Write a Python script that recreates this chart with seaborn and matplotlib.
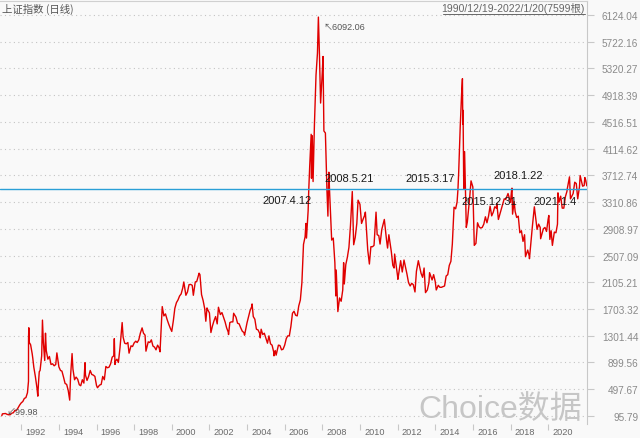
import pandas as pd
import matplotlib.pyplot as plt
import matplotlib.dates as mdates
from matplotlib.lines import Line2D
from matplotlib.transforms import ScaledTranslation
import seaborn as sns

# Shanghai Composite daily close at turning points
dates = [
    "1990-12-19", "1990-12-31", "1991-01-31", "1991-02-28", "1991-03-31", "1991-04-30", "1991-05-31",
    "1991-06-30", "1991-07-31", "1991-08-31", "1991-09-30", "1991-10-31", "1991-11-30", "1991-12-31",
    "1992-01-31", "1992-02-29", "1992-03-31", "1992-04-30", "1992-05-20", "1992-05-21", "1992-05-26",
    "1992-06-05", "1992-06-30", "1992-07-31", "1992-08-12", "1992-08-31", "1992-09-30", "1992-10-31",
    "1992-11-17", "1992-11-30", "1992-12-15", "1992-12-31", "1993-01-31", "1993-02-15", "1993-03-05",
    "1993-03-31", "1993-04-15", "1993-04-30", "1993-05-31", "1993-06-30", "1993-07-31", "1993-08-31",
    "1993-09-30", "1993-10-31", "1993-11-22", "1993-12-31", "1994-01-31", "1994-02-28", "1994-03-31",
    "1994-04-30", "1994-05-31", "1994-06-30", "1994-07-29", "1994-08-15", "1994-09-13", "1994-09-30",
    "1994-10-31", "1994-11-30", "1994-12-31", "1995-01-31", "1995-02-28", "1995-03-31", "1995-04-30",
    "1995-05-22", "1995-05-31", "1995-06-30", "1995-07-31", "1995-08-31", "1995-09-30", "1995-10-31",
    "1995-11-30", "1995-12-31", "1996-01-19", "1996-02-29", "1996-03-31", "1996-04-30", "1996-05-31",
    "1996-06-30", "1996-07-31", "1996-08-31", "1996-09-30", "1996-10-31", "1996-11-30", "1996-12-11",
    "1996-12-24", "1996-12-31", "1997-01-31", "1997-02-28", "1997-03-31", "1997-04-30", "1997-05-12",
    "1997-05-31", "1997-06-30", "1997-07-31", "1997-08-31", "1997-09-23", "1997-10-31", "1997-11-30",
    "1997-12-31", "1998-01-31", "1998-02-28", "1998-03-31", "1998-04-30", "1998-05-31", "1998-06-03",
    "1998-06-30", "1998-07-31", "1998-08-17", "1998-09-30", "1998-10-31", "1998-11-30", "1998-12-31",
    "1999-01-31", "1999-02-28", "1999-03-31", "1999-04-30", "1999-05-17", "1999-05-31", "1999-06-29",
    "1999-07-31", "1999-08-31", "1999-09-30", "1999-10-31", "1999-11-30", "1999-12-31", "2000-01-31",
    "2000-02-29", "2000-03-31", "2000-04-30", "2000-05-31", "2000-06-30", "2000-07-31", "2000-08-21",
    "2000-09-30", "2000-10-31", "2000-11-30", "2000-12-31", "2001-01-31", "2001-02-22", "2001-03-31",
    "2001-04-30", "2001-05-31", "2001-06-13", "2001-06-30", "2001-07-31", "2001-08-31", "2001-09-30",
    "2001-10-22", "2001-11-14", "2001-11-30", "2001-12-31", "2002-01-29", "2002-02-28", "2002-03-31",
    "2002-04-30", "2002-05-31", "2002-06-24", "2002-07-31", "2002-08-31", "2002-09-30", "2002-10-31",
    "2002-11-30", "2002-12-31", "2003-01-06", "2003-01-31", "2003-02-28", "2003-03-31", "2003-04-15",
    "2003-05-31", "2003-06-30", "2003-07-31", "2003-08-31", "2003-09-30", "2003-10-31", "2003-11-13",
    "2003-12-31", "2004-01-31", "2004-02-28", "2004-03-31", "2004-04-07", "2004-04-30", "2004-05-31",
    "2004-06-30", "2004-07-31", "2004-08-31", "2004-09-13", "2004-09-30", "2004-10-31", "2004-11-30",
    "2004-12-31", "2005-01-31", "2005-02-28", "2005-03-31", "2005-04-30", "2005-05-31", "2005-06-06",
    "2005-06-30", "2005-07-18", "2005-08-31", "2005-09-30", "2005-10-31", "2005-11-30", "2005-12-31",
    "2006-01-31", "2006-02-28", "2006-03-31", "2006-04-30", "2006-05-31", "2006-06-30", "2006-07-31",
    "2006-08-31", "2006-09-30", "2006-10-31", "2006-11-30", "2006-12-31", "2007-01-31", "2007-02-16",
    "2007-02-27", "2007-03-31", "2007-04-12", "2007-04-30", "2007-05-29", "2007-06-04", "2007-06-20",
    "2007-07-05", "2007-07-31", "2007-08-31", "2007-09-28", "2007-10-16", "2007-11-05", "2007-11-28",
    "2007-12-31", "2008-01-14", "2008-01-31", "2008-02-29", "2008-03-31", "2008-04-18", "2008-05-06",
    "2008-05-21", "2008-06-30", "2008-07-31", "2008-08-31", "2008-09-18", "2008-09-26", "2008-10-28",
    "2008-11-30", "2008-12-31", "2009-01-31", "2009-02-17", "2009-03-02", "2009-03-31", "2009-04-30",
    "2009-05-31", "2009-06-30", "2009-07-31", "2009-08-04", "2009-08-31", "2009-09-30", "2009-10-31",
    "2009-11-24", "2009-12-31", "2010-01-31", "2010-02-28", "2010-03-31", "2010-04-15", "2010-05-31",
    "2010-07-02", "2010-07-31", "2010-08-31", "2010-09-30", "2010-11-08", "2010-11-30", "2010-12-31",
    "2011-01-25", "2011-02-28", "2011-04-18", "2011-05-31", "2011-06-20", "2011-07-15", "2011-08-31",
    "2011-09-30", "2011-10-24", "2011-11-04", "2011-12-31", "2012-01-06", "2012-02-29", "2012-03-31",
    "2012-05-04", "2012-06-30", "2012-07-31", "2012-08-31", "2012-09-30", "2012-10-31", "2012-12-03",
    "2012-12-31", "2013-02-06", "2013-03-31", "2013-04-30", "2013-05-29", "2013-06-25", "2013-07-31",
    "2013-08-31", "2013-09-12", "2013-10-31", "2013-11-30", "2013-12-31", "2014-01-20", "2014-02-28",
    "2014-03-31", "2014-04-30", "2014-05-31", "2014-06-30", "2014-07-31", "2014-08-31", "2014-09-30",
    "2014-10-31", "2014-11-28", "2014-12-31", "2015-01-31", "2015-02-28", "2015-03-17", "2015-03-31",
    "2015-04-30", "2015-05-27", "2015-06-12", "2015-06-19", "2015-06-24", "2015-07-08", "2015-07-24",
    "2015-08-26", "2015-09-15", "2015-10-31", "2015-11-26", "2015-12-31", "2016-01-28", "2016-02-29",
    "2016-03-31", "2016-04-30", "2016-05-31", "2016-06-30", "2016-07-31", "2016-08-31", "2016-09-30",
    "2016-10-31", "2016-11-30", "2016-12-31", "2017-01-31", "2017-02-28", "2017-03-31", "2017-04-10",
    "2017-05-10", "2017-06-30", "2017-07-31", "2017-08-31", "2017-09-30", "2017-11-13", "2017-12-31",
    "2018-01-22", "2018-01-29", "2018-02-09", "2018-03-12", "2018-03-31", "2018-04-30", "2018-05-31",
    "2018-06-30", "2018-07-31", "2018-08-31", "2018-09-30", "2018-10-18", "2018-11-30", "2018-12-31",
    "2019-01-03", "2019-02-28", "2019-04-08", "2019-05-31", "2019-06-30", "2019-07-31", "2019-08-08",
    "2019-09-30", "2019-10-31", "2019-11-30", "2019-12-31", "2020-01-14", "2020-02-03", "2020-02-28",
    "2020-03-23", "2020-04-30", "2020-05-31", "2020-06-30", "2020-07-09", "2020-07-31", "2020-08-31",
    "2020-09-30", "2020-10-31", "2020-11-30", "2020-12-31", "2021-01-04", "2021-02-18", "2021-03-09",
    "2021-04-30", "2021-05-31", "2021-06-30", "2021-07-28", "2021-08-31", "2021-09-13", "2021-10-31",
    "2021-11-30", "2021-12-13", "2021-12-31", "2022-01-20",
]
closes = [
    99.98, 127.6, 130.0, 133.0, 120.2, 113.9, 114.8,
    137.6, 143.6, 180.9, 180.0, 218.6, 259.6, 292.8,
    313.2, 358.8, 372.1, 445.0, 617.0, 1266.5, 1421.6,
    1200, 1167.5, 1030, 960, 830, 690, 520,
    393.5, 590, 760, 780.4, 1000, 1536.8, 1200,
    930, 1340, 1080, 950, 990, 870, 880,
    850, 870, 1044, 833.8, 780, 770, 680,
    585, 570, 480, 333.9, 700, 1033.5, 800,
    640, 680, 647.9, 565, 550, 640, 590,
    897, 710, 630, 690, 780, 720, 710,
    690, 555.3, 520, 560, 570, 690, 640,
    840, 820, 830, 880, 980, 1000, 1258,
    870, 917, 950, 900, 1120, 1380, 1500,
    1280, 1190, 1180, 1200, 1040, 1150, 1140,
    1194, 1220, 1200, 1240, 1340, 1410, 1420,
    1340, 1310, 1070, 1210, 1200, 1240, 1146.7,
    1130, 1090, 1160, 1120, 1060, 1280, 1740,
    1600, 1630, 1550, 1480, 1420, 1366.6, 1530,
    1715, 1800, 1840, 1900, 1930, 2020, 2110,
    1910, 1960, 2070, 2073.5, 2060, 1910, 2110,
    2120, 2210, 2242, 2220, 1920, 1830, 1710,
    1520, 1720, 1690, 1645, 1350, 1450, 1530,
    1590, 1480, 1730, 1620, 1650, 1580, 1510,
    1420, 1357.7, 1320, 1500, 1510, 1510, 1640,
    1580, 1490, 1480, 1420, 1370, 1350, 1310,
    1497, 1590, 1680, 1740, 1780, 1590, 1550,
    1400, 1390, 1340, 1270, 1400, 1320, 1340,
    1266.5, 1190, 1300, 1180, 1160, 1060, 1000,
    1080, 1010, 1160, 1155, 1090, 1100, 1161,
    1260, 1300, 1300, 1440, 1640, 1670, 1610,
    1600, 1750, 1840, 2100, 2675, 2790, 2990,
    2770, 3180, 3490, 3840, 4330, 3670, 4310,
    3620, 4470, 5220, 5550, 6092.06, 5550, 4800,
    5262, 5500, 4380, 4350, 3470, 3100, 3760,
    3460, 2740, 2770, 2400, 1900, 2290, 1665,
    1870, 1820, 1990, 2400, 2080, 2370, 2480,
    2630, 2960, 3410, 3470, 2670, 2780, 2990,
    3340, 3277, 2990, 3050, 3110, 3160, 2590,
    2380, 2640, 2640, 2660, 3160, 2820, 2808,
    2680, 2900, 3050, 2740, 2620, 2820, 2570,
    2360, 2320, 2530, 2199, 2150, 2430, 2260,
    2440, 2230, 2100, 2050, 2090, 2070, 1960,
    2270, 2430, 2240, 2180, 2320, 1950, 1990,
    2100, 2250, 2140, 2220, 2116, 1990, 2060,
    2030, 2030, 2040, 2050, 2200, 2220, 2360,
    2420, 2680, 3234, 3210, 3310, 3500, 3750,
    4440, 4940, 5166, 4480, 4690, 3510, 4070,
    2930, 3010, 3380, 3630, 3539, 2660, 2690,
    3000, 2940, 2920, 2930, 2980, 3090, 3000,
    3100, 3250, 3104, 3160, 3240, 3220, 3290,
    3050, 3190, 3270, 3360, 3350, 3440, 3307,
    3500, 3520, 3130, 3320, 3170, 3080, 3100,
    2850, 2880, 2720, 2820, 2490, 2590, 2494,
    2460, 2940, 3240, 2900, 2980, 2930, 2760,
    2910, 2930, 2870, 3050, 3110, 2750, 2880,
    2660, 2860, 2850, 2980, 3450, 3310, 3400,
    3220, 3220, 3390, 3473, 3502, 3690, 3360,
    3440, 3610, 3590, 3360, 3540, 3710, 3550,
    3560, 3680, 3640, 3555,
]

y_ticks = [95.79, 497.67, 899.56, 1301.44, 1703.32, 2105.21, 2507.09, 2908.97,
           3310.86, 3712.74, 4114.62, 4516.51, 4918.39, 5320.27, 5722.16, 6124.04]
x_tick_years = list(range(1992, 2021, 2))
level = 3502
marks = ["2007-04-12", "2008-05-21", "2015-03-17", "2015-12-31", "2018-01-22", "2021-01-04"]
mark_labels = ["2007.4.12", "2008.5.21", "2015.3.17", "2015.12.31", "2018.1.22", "2021.1.4"]

df = pd.DataFrame({"date": pd.to_datetime(dates), "close": closes})

sns.set_theme(style="white")
plt.rcParams['font.family'] = ['Liberation Sans', 'Noto Sans CJK SC', 'DejaVu Sans']

fig = plt.figure(figsize=(6.4, 4.39), dpi=100, facecolor='#f9f9f9')
ax = fig.add_axes([0, 1 - 425 / 439, 587 / 640, 423 / 439])
ax.set_facecolor('#f9f9f9')

sns.lineplot(data=df, x="date", y="close", ax=ax, color='#e00000', linewidth=1.0,
             estimator=None, sort=False)
ax.axhline(level, color='#2a9fd6', linewidth=1.0)

ax.set_xlim(pd.Timestamp("1990-11-14"), pd.Timestamp("2022-01-24"))
ax.set_ylim(-25, 6334)
ax.set_xlabel("")
ax.set_ylabel("")

# right-hand price axis
ax.yaxis.tick_right()
ax.set_yticks(y_ticks)
ax.set_yticklabels([f"{v:.2f}" for v in y_ticks])
ax.tick_params(axis='y', which='both', right=True, left=False, length=5, width=0.8,
               color='#c8c8c8', labelsize=7.2, labelcolor='#8a8a8a', pad=32)
for lab in ax.get_yticklabels():
    lab.set_horizontalalignment('right')
ax.grid(axis='y', linestyle=(0, (1, 3)), color='#c4c4c4', linewidth=0.8)

ax.set_xticks([pd.Timestamp(f"{y}-01-01") for y in x_tick_years])
ax.xaxis.set_major_formatter(mdates.DateFormatter('%Y'))
ax.tick_params(axis='x', bottom=True, length=4, width=0.8, color='#c8c8c8',
               labelsize=6.6, labelcolor='#6a6a6a', pad=-2)
shift = ScaledTranslation(3 / 72, 0, fig.dpi_scale_trans)
for lab in ax.get_xticklabels():
    lab.set_horizontalalignment('left')
    lab.set_transform(lab.get_transform() + shift)

for side in ['left', 'bottom']:
    ax.spines[side].set_visible(False)
ax.spines['top'].set_color('#d0d0d0')
ax.spines['right'].set_color('#c8c8c8')
ax.spines['top'].set_linewidth(0.8)
ax.spines['right'].set_linewidth(0.8)

# date annotations around the 3500 line
offsets = [(3, -11, 'right'), (-5, 11, 'left'), (-3, 11, 'right'),
           (-11, -12, 'left'), (7, 14, 'center'), (-12, -12, 'center')]
for d, txt, (dx, dy, ha) in zip(marks, mark_labels, offsets):
    ax.annotate(txt, xy=(pd.Timestamp(d), level), xytext=(dx, dy), textcoords='offset pixels',
                ha=ha, va='center', fontsize=8, color='#1a1a1a')

top = df.loc[df["close"].idxmax()]
ax.annotate(f"↖{top['close']:.2f}", xy=(top["date"], top["close"]), xytext=(5, -9),
            textcoords='offset pixels', ha='left', va='center', fontsize=6.5, color='#555555')
first = df.iloc[0]
ax.annotate(f"↙{first['close']:.2f}", xy=(first["date"], first["close"]), xytext=(5, 4),
            textcoords='offset pixels', ha='left', va='center', fontsize=6.5, color='#555555')

# header
fig.text(2 / 640, 1 - 9 / 439, "上证指数 (日线)", ha='left', va='center', fontsize=7.5,
         color='#555555', family=['Noto Sans CJK SC', 'DejaVu Sans'])
fig.text(585 / 640, 1 - 9 / 439, "1990/12/19-2022/1/20(7599根)", ha='right', va='center',
         fontsize=7.5, color='#666666')
fig.add_artist(Line2D([443 / 640, 585 / 640], [1 - 15 / 439, 1 - 15 / 439],
                      color='#666666', linewidth=0.7))

# watermark
fig.text(500 / 640, 1 - 410 / 439, "Choice数据", ha='center', va='center', fontsize=23,
         color='#c6c6c6', family=['Liberation Sans', 'Noto Sans CJK SC'])

fig.savefig("out.png", dpi=100, facecolor=fig.get_facecolor())
